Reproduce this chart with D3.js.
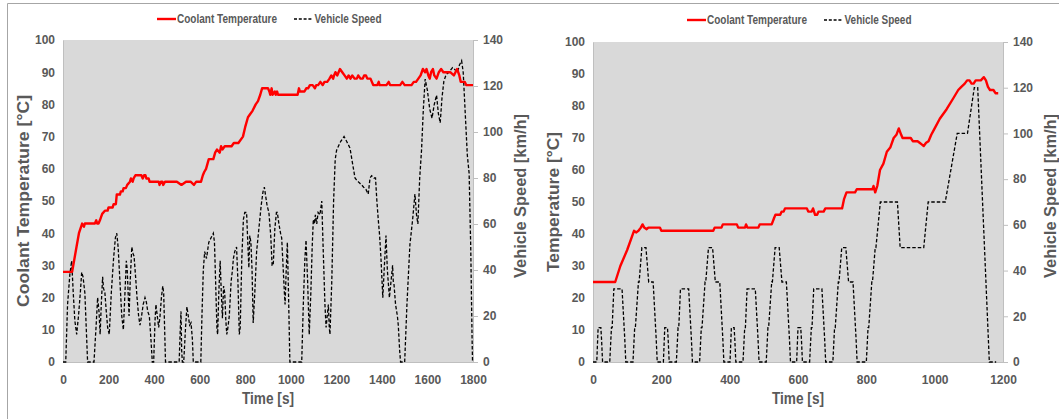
<!DOCTYPE html>
<html>
<head>
<meta charset="utf-8">
<script src="https://cdn.jsdelivr.net/npm/d3@7"></script>
<style>
  html, body { margin: 0; padding: 0; background: #ffffff; }
  svg { display: block; }
</style>
</head>
<body>
<svg id="chart" width="1059" height="419"></svg>
<script>
// ---------------- DATA ----------------
const legendLabels = ["Coolant Temperature", "Vehicle Speed"];
const xTitle = "Time [s]";
const leftYTitle = "Coolant Temperature [°C]";
const rightChartYTitle = "Temperature [°C]";
const speedTitle = "Vehicle Speed [km/h]";

const tempTicks = [0, 10, 20, 30, 40, 50, 60, 70, 80, 90, 100];
const speedTicks = [0, 20, 40, 60, 80, 100, 120, 140];
const leftTimeTicks = [0, 200, 400, 600, 800, 1000, 1200, 1400, 1600, 1800];
const rightTimeTicks = [0, 200, 400, 600, 800, 1000, 1200];

// Left chart: coolant temperature [time s, °C]
const leftTemp = [
  [0,28],[40,28],[50,32],[60,36],[70,40],[84,43],[92,42],[96,43],[140,43],[146,44],[150,43],[156,43],
  [162,44],[172,46],[184,47],[196,47],[200,48],[218,48],[222,49],[232,49],[236,52],[250,52],[254,53],
  [262,53],[266,54],[276,54],[282,55],[294,56],[298,57],[306,56],[310,57],[318,58],[344,58],[350,57],
  [356,58],[362,58],[366,57],[376,57],[380,56],[420,56],[424,55],[430,56],[436,56],[440,55],[448,56],
  [500,56],[520,55],[540,56],[560,56],[575,55],[585,56],[606,56],[614,58],[620,59],[628,60],[640,63],
  [660,63],[668,65],[676,66],[688,65],[694,67],[700,66],[710,67],[740,67],[750,68],[770,68],[790,70],
  [800,73],[812,76],[822,77],[832,78],[846,80],[856,81],[866,83],[874,85],[900,85],[906,84],[910,83],
  [916,85],[920,83],[930,84],[934,83],[940,84],[944,83],[1030,83],[1036,85],[1040,84],[1060,84],
  [1068,85],[1076,85],[1084,86],[1096,86],[1106,85],[1112,86],[1120,86],[1130,87],[1140,86],[1148,87],
  [1160,87],[1170,88],[1178,89],[1186,88],[1190,89],[1196,90],[1204,89],[1210,90],[1216,91],[1226,90],
  [1236,89],[1246,88],[1254,89],[1262,88],[1270,89],[1280,88],[1290,88],[1296,89],[1306,88],[1316,88],
  [1322,89],[1330,89],[1336,88],[1350,88],[1356,87],[1362,86],[1380,86],[1386,87],[1390,86],[1420,86],
  [1430,87],[1436,86],[1480,86],[1490,87],[1500,86],[1530,86],[1540,87],[1550,87],[1560,88],[1570,89],
  [1580,91],[1590,90],[1596,91],[1604,89],[1610,88],[1616,90],[1624,91],[1630,89],[1640,88],[1650,90],
  [1660,91],[1670,90],[1700,90],[1716,89],[1730,91],[1740,89],[1746,87],[1764,87],[1770,86],[1800,86]
];

// Left chart: vehicle speed [time s, km/h]
const leftSpeed = [
  [0,0],[12,0],[20,25],[30,38],[38,44],[45,30],[52,18],[60,12],[68,20],[76,30],[82,39],[88,37],[96,30],
  [104,10],[108,0],[136,0],[145,15],[152,28],[158,22],[163,12],[168,25],[174,37],[178,32],[184,30],
  [190,22],[196,15],[203,12],[212,30],[222,45],[230,54],[236,56],[242,50],[250,35],[258,20],[265,14],
  [272,30],[278,44],[282,40],[286,30],[290,20],[295,35],[302,50],[308,47],[312,46],[318,38],[325,28],
  [332,20],[338,16],[345,20],[352,25],[360,28],[366,26],[372,22],[379,20],[386,10],[392,0],[398,0],
  [404,18],[408,25],[414,20],[420,15],[426,20],[432,28],[438,33],[442,30],[446,15],[450,0],[510,0],
  [514,12],[518,22],[521,5],[524,0],[530,0],[538,15],[544,24],[550,20],[556,16],[562,17],[568,10],
  [572,0],[605,0],[610,20],[616,40],[622,48],[630,45],[640,52],[650,54],[660,56],[665,52],[670,35],
  [676,14],[679,12],[684,30],[690,44],[695,30],[700,19],[705,33],[710,30],[715,18],[719,12],[724,15],
  [730,20],[738,35],[744,40],[748,45],[754,48],[762,50],[768,35],[774,12],[778,15],[785,45],[792,62],
  [798,65],[806,65],[812,50],[816,41],[820,55],[825,52],[830,40],[835,17],[842,30],[850,48],[860,58],
  [870,68],[878,74],[884,76],[890,72],[896,68],[904,65],[912,55],[918,42],[923,42],[930,58],[937,65],
  [941,65],[948,60],[955,56],[960,54],[966,42],[972,30],[975,25],[980,40],[985,52],[990,30],[996,0],
  [1048,0],[1055,25],[1062,45],[1067,53],[1074,35],[1081,12],[1088,30],[1094,50],[1099,62],[1104,60],
  [1108,64],[1114,60],[1120,65],[1128,64],[1136,70],[1142,50],[1150,25],[1155,15],[1160,20],[1165,25],
  [1169,15],[1172,12],[1180,35],[1188,70],[1195,88],[1201,92],[1210,94],[1220,96],[1234,98],[1245,96],
  [1260,93],[1270,87],[1282,80],[1290,79],[1300,78],[1311,77],[1320,76],[1330,75],[1340,73],[1348,80],
  [1355,81],[1365,80],[1372,80],[1378,70],[1384,62],[1390,55],[1396,45],[1404,28],[1410,40],[1418,55],
  [1424,40],[1433,28],[1440,35],[1447,42],[1450,35],[1453,34],[1460,25],[1468,20],[1472,16],[1478,5],
  [1482,0],[1500,0],[1510,25],[1523,51],[1535,62],[1545,73],[1552,64],[1558,60],[1566,80],[1574,92],
  [1582,110],[1590,123],[1600,118],[1610,110],[1620,106],[1630,112],[1640,116],[1648,108],[1656,104],
  [1664,115],[1672,122],[1682,125],[1695,126],[1710,128],[1722,127],[1732,126],[1740,129],[1750,131],
  [1757,126],[1765,110],[1775,90],[1783,82],[1790,50],[1796,10],[1798,0],[1800,0]
];

// Right chart: coolant temperature [time s, °C]
const rightTemp = [
  [0,25],[65,25],[80,30],[100,35],[120,41],[126,40.5],[133,41],[140,42],[145,43],[150,42],[157,41.5],
  [162,42],[196,42],[200,41],[352,41],[356,42],[376,42],[380,43],[421,43],[425,42],[445,42],[448,43],
  [452,42],[484,42],[488,43],[523,43],[530,45],[534,46],[548,46],[552,47],[558,47],[562,48],[626,48],
  [630,47],[640,47],[644,48],[650,46],[656,46],[660,47],[675,47],[680,48],[729,48],[735,51],[742,53],
  [767,53],[772,54],[818,54],[821,55],[826,53],[832,55],[840,60],[850,62],[860,65.7],[870,67],[880,70],
  [888,71],[895,73],[902,71],[906,70],[930,70],[936,69],[950,69],[956,68.5],[962,68],[968,67.5],
  [975,68.5],[982,69],[990,71],[1000,73],[1015,76],[1035,79],[1055,82.5],[1069,85],[1078,86],[1088,87],
  [1095,88],[1102,88],[1108,87],[1114,87],[1120,88],[1135,88],[1144,89],[1150,88],[1156,86],[1162,85],
  [1172,85],[1178,84],[1186,84]
];

// Right chart: vehicle speed (NEDC) [time s, km/h]
const rightSpeed = [
  [0,0],[11,0],[15,15],[23,15],[25,10],[28,0],[49,0],[54,15],[56,15],[61,32],[85,32],[93,10],[96,0],
  [117,0],[122,15],[124,15],[133,35],[135,35],[143,50],[155,50],[163,35],[176,35],[185,10],[188,0],
  [206,0],[210,15],[218,15],[220,10],[223,0],[244,0],[249,15],[251,15],[256,32],[280,32],[288,10],[291,0],
  [312,0],[317,15],[319,15],[328,35],[330,35],[338,50],[350,50],[358,35],[371,35],[380,10],[383,0],
  [401,0],[405,15],[413,15],[415,10],[418,0],[439,0],[444,15],[446,15],[451,32],[475,32],[483,10],[486,0],
  [507,0],[512,15],[514,15],[523,35],[525,35],[533,50],[545,50],[553,35],[566,35],[575,10],[578,0],
  [596,0],[600,15],[608,15],[610,10],[613,0],[634,0],[639,15],[641,15],[646,32],[670,32],[678,10],[681,0],
  [702,0],[707,15],[709,15],[718,35],[720,35],[728,50],[740,50],[748,35],[761,35],[770,10],[773,0],
  [800,0],[805,15],[807,15],[816,35],[818,35],[826,50],[828,50],[841,70],[891,70],[899,50],[968,50],
  [981,70],[1031,70],[1066,100],[1096,100],[1116,120],[1126,120],[1160,0],[1180,0]
];

// ---------------- DRAWING ----------------
const svg = d3.select("#chart");
const gray = "#595959";
const axisGray = "#bfbfbf";
const plotBg = "#d9d9d9";
const sansBold = "'Liberation Sans', Arial, sans-serif";
const narrowBold = "'Liberation Sans Narrow', 'Arial Narrow', 'Liberation Sans', sans-serif";

// outer frame
svg.append("line").attr("x1", 7.5).attr("x2", 1059).attr("y1", 3.5).attr("y2", 3.5)
  .attr("stroke", "#a6a6a6").attr("stroke-width", 1);
svg.append("line").attr("x1", 7.5).attr("x2", 7.5).attr("y1", 3.5).attr("y2", 419)
  .attr("stroke", "#a6a6a6").attr("stroke-width", 1);

function drawPanel(cfg) {
  const g = svg.append("g");
  const x = d3.scaleLinear().domain([0, cfg.xMax]).range([cfg.left, cfg.right]);
  const yT = d3.scaleLinear().domain([0, 100]).range([cfg.bottom, cfg.top]);
  const yS = d3.scaleLinear().domain([0, 140]).range([cfg.bottom, cfg.top]);

  g.append("rect").attr("x", cfg.left).attr("y", cfg.top)
    .attr("width", cfg.right - cfg.left).attr("height", cfg.bottom - cfg.top)
    .attr("fill", plotBg);

  // axes
  const ax = g.append("g").attr("transform", `translate(0,${cfg.bottom})`)
    .call(d3.axisBottom(x).tickValues(cfg.xTicks).tickSize(0).tickPadding(13).tickFormat(d3.format("d")));
  const ayl = g.append("g").attr("transform", `translate(${cfg.left},0)`)
    .call(d3.axisLeft(yT).tickValues(tempTicks).tickSize(0).tickPadding(8).tickFormat(d3.format("d")));
  const ayr = g.append("g").attr("transform", `translate(${cfg.right},0)`)
    .call(d3.axisRight(yS).tickValues(speedTicks).tickSize(5).tickPadding(5).tickFormat(d3.format("d")));
  [ax, ayl, ayr].forEach(a => {
    a.select(".domain").attr("stroke", axisGray).attr("stroke-width", 1);
    a.selectAll(".tick line").attr("stroke", axisGray);
    a.selectAll("text").attr("fill", gray).attr("font-family", sansBold)
      .attr("font-weight", "bold").attr("font-size", 12);
  });

  // lines
  const tempLine = d3.line().x(d => x(d[0])).y(d => yT(d[1]));
  const speedLine = d3.line().x(d => x(d[0])).y(d => yS(d[1]));
  g.append("path").datum(cfg.speed).attr("d", speedLine)
    .attr("fill", "none").attr("stroke", "#000").attr("stroke-width", 1.3)
    .attr("stroke-dasharray", "3.5,2");
  g.append("path").datum(cfg.temp).attr("d", tempLine)
    .attr("fill", "none").attr("stroke", "#ff0000").attr("stroke-width", 2.4)
    .attr("stroke-linejoin", "round");

  // titles
  g.append("text").attr("x", (cfg.left + cfg.right) / 2).attr("y", 398)
    .attr("text-anchor", "middle").attr("dominant-baseline", "central")
    .attr("fill", gray).attr("font-family", narrowBold).attr("font-weight", "bold")
    .attr("font-size", 17).attr("textLength", 52).attr("lengthAdjust", "spacingAndGlyphs")
    .text(xTitle);
  g.append("text")
    .attr("transform", `translate(${cfg.left - 40},${cfg.leftTitleY}) rotate(-90)`)
    .attr("text-anchor", "middle").attr("dominant-baseline", "central")
    .attr("fill", gray).attr("font-family", sansBold).attr("font-weight", "bold")
    .attr("font-size", 16).attr("textLength", cfg.leftTitleLen).attr("lengthAdjust", "spacingAndGlyphs")
    .text(cfg.leftTitle);
  g.append("text")
    .attr("transform", `translate(${cfg.right + 47},196) rotate(-90)`)
    .attr("text-anchor", "middle").attr("dominant-baseline", "central")
    .attr("fill", gray).attr("font-family", sansBold).attr("font-weight", "bold")
    .attr("font-size", 16).attr("textLength", 164).attr("lengthAdjust", "spacingAndGlyphs")
    .text(speedTitle);

  // legend
  const lg = g.append("g");
  const lx = cfg.legendX, ly = cfg.legendY;
  lg.append("line").attr("x1", lx).attr("x2", lx + 19).attr("y1", ly).attr("y2", ly)
    .attr("stroke", "#ff0000").attr("stroke-width", 2.4);
  lg.append("text").attr("x", lx + 20).attr("y", ly).attr("dominant-baseline", "central")
    .attr("fill", gray).attr("font-family", narrowBold).attr("font-weight", "bold")
    .attr("font-size", 12).attr("textLength", 100).attr("lengthAdjust", "spacingAndGlyphs")
    .text(legendLabels[0]);
  lg.append("line").attr("x1", lx + 137).attr("x2", lx + 156).attr("y1", ly).attr("y2", ly)
    .attr("stroke", "#000").attr("stroke-width", 1.3).attr("stroke-dasharray", "3,1.8");
  lg.append("text").attr("x", lx + 157.5).attr("y", ly).attr("dominant-baseline", "central")
    .attr("fill", gray).attr("font-family", narrowBold).attr("font-weight", "bold")
    .attr("font-size", 12).attr("textLength", 67).attr("lengthAdjust", "spacingAndGlyphs")
    .text(legendLabels[1]);
}

drawPanel({
  left: 63, right: 473, top: 40, bottom: 362, xMax: 1800, xTicks: leftTimeTicks,
  temp: leftTemp, speed: leftSpeed, leftTitle: leftYTitle, leftTitleLen: 212, leftTitleY: 201,
  legendX: 157, legendY: 19
});
drawPanel({
  left: 593, right: 1003, top: 42, bottom: 362, xMax: 1200, xTicks: rightTimeTicks,
  temp: rightTemp, speed: rightSpeed, leftTitle: rightChartYTitle, leftTitleLen: 140, leftTitleY: 202,
  legendX: 687, legendY: 20
});
</script>
</body>
</html>
